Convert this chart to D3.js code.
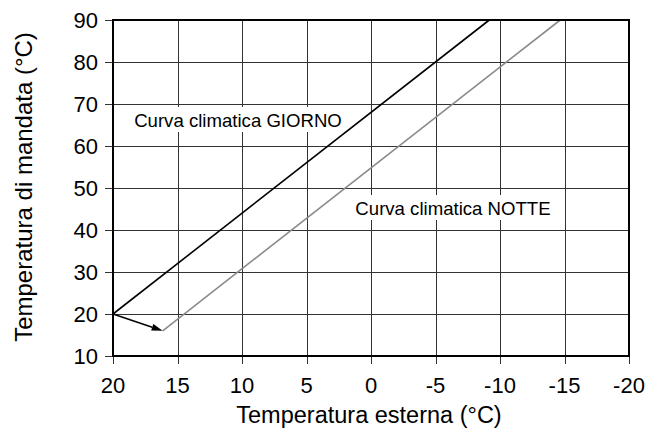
<!DOCTYPE html>
<html>
<head>
<meta charset="utf-8">
<script src="https://cdn.jsdelivr.net/npm/d3@7"></script>
<style>
  html, body { margin: 0; padding: 0; background: #fff; }
  svg { display: block; }
  text { font-family: "Liberation Sans", Arial, Helvetica, sans-serif; fill: #000; }
</style>
</head>
<body>
<svg id="chart" width="660" height="429"></svg>
<script>
// ---- data ----
const xTicks = [20, 15, 10, 5, 0, -5, -10, -15, -20];
const yTicks = [10, 20, 30, 40, 50, 60, 70, 80, 90];
const dayCurve = [[20, 20], [-9.17, 90]];      // Curva climatica GIORNO
const nightCurve = [[16.15, 16], [-14.67, 90]]; // Curva climatica NOTTE
const arrowFrom = [20, 20];
const arrowTo = [16.15, 16];
const xTitle = "Temperatura esterna (°C)";
const yTitle = "Temperatura di mandata (°C)";
const dayLabel = "Curva climatica GIORNO";
const nightLabel = "Curva climatica NOTTE";

// ---- layout ----
const svg = d3.select("#chart");
const L = 113, R = 629, T = 20, B = 356;
const x = d3.scaleLinear().domain([20, -20]).range([L, R]);
const y = d3.scaleLinear().domain([10, 90]).range([B, T]);

// grid
const grid = svg.append("g").attr("stroke", "#333").attr("stroke-width", 1).attr("shape-rendering", "crispEdges");
grid.selectAll("line.v").data(xTicks).join("line")
  .attr("x1", d => Math.round(x(d)) + 0.5).attr("x2", d => Math.round(x(d)) + 0.5)
  .attr("y1", T).attr("y2", B + 8);
grid.selectAll("line.h").data(yTicks).join("line")
  .attr("y1", d => Math.round(y(d)) + 0.5).attr("y2", d => Math.round(y(d)) + 0.5)
  .attr("x1", L - 8).attr("x2", R);

// label backgrounds + labels
function boxedLabel(txt, cx, baseline, size) {
  const g = svg.append("g");
  const t = g.append("text").attr("x", cx).attr("y", baseline)
    .attr("text-anchor", "middle").style("font-size", size + "px").text(txt);
  const bb = t.node().getBBox();
  g.insert("rect", "text")
    .attr("x", bb.x - 6).attr("y", baseline - 20)
    .attr("width", bb.width + 12).attr("height", 25)
    .attr("fill", "#fff");
}
boxedLabel(dayLabel, 238, 127, 18.6);
boxedLabel(nightLabel, 453, 215, 18.6);

// curves
const line = d3.line().x(d => x(d[0])).y(d => y(d[1]));
svg.append("path").datum(nightCurve).attr("d", line)
  .attr("fill", "none").attr("stroke", "#8a8a8a").attr("stroke-width", 1.6);
svg.append("path").datum(dayCurve).attr("d", line)
  .attr("fill", "none").attr("stroke", "#000").attr("stroke-width", 1.6);

// arrow
const ax0 = x(arrowFrom[0]), ay0 = y(arrowFrom[1]);
const ax1 = x(arrowTo[0]), ay1 = y(arrowTo[1]);
const ang = Math.atan2(ay1 - ay0, ax1 - ax0);
const hl = 11, hw = 3.5;
const bx = ax1 - hl * Math.cos(ang), by = ay1 - hl * Math.sin(ang);
svg.append("line").attr("x1", ax0).attr("y1", ay0).attr("x2", bx).attr("y2", by)
  .attr("stroke", "#000").attr("stroke-width", 1.4);
svg.append("path")
  .attr("d", `M${ax1},${ay1}L${bx - hw * Math.sin(ang)},${by + hw * Math.cos(ang)}L${bx + hw * Math.sin(ang)},${by - hw * Math.cos(ang)}Z`)
  .attr("fill", "#000");

// border
svg.append("rect").attr("x", L).attr("y", T).attr("width", R - L).attr("height", B - T)
  .attr("fill", "none").attr("stroke", "#000").attr("stroke-width", 2);

// tick labels
svg.append("g").selectAll("text").data(xTicks).join("text")
  .attr("x", d => x(d)).attr("y", 393).attr("text-anchor", "middle")
  .style("font-size", "22px").text(d => d);
svg.append("g").selectAll("text").data(yTicks).join("text")
  .attr("x", 98).attr("y", d => y(d)).attr("dy", "0.35em").attr("text-anchor", "end")
  .style("font-size", "22px").text(d => d);

// axis titles
svg.append("text").attr("x", 369).attr("y", 423).attr("text-anchor", "middle")
  .style("font-size", "23.5px").text(xTitle);
svg.append("text").attr("transform", "translate(32,187) rotate(-90)")
  .attr("text-anchor", "middle").style("font-size", "24px").text(yTitle);
</script>
</body>
</html>
